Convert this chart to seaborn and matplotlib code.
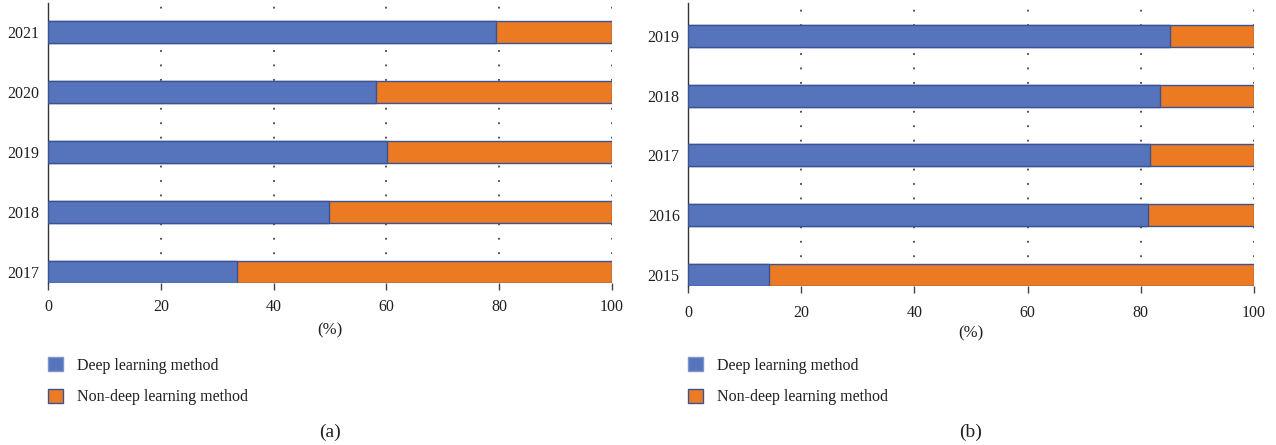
import numpy as np
import pandas as pd
import seaborn as sns
import matplotlib
matplotlib.use("Agg")
from matplotlib import pyplot as plt
from matplotlib.patches import Patch

# panel (a)
years_a = ["2021", "2020", "2019", "2018", "2017"]
deep_a = [79.5, 58.2, 60.1, 49.9, 33.6]
nondeep_a = [20.5, 41.8, 39.9, 50.1, 66.4]

# panel (b)
years_b = ["2019", "2018", "2017", "2016", "2015"]
deep_b = [85.2, 83.3, 81.6, 81.2, 14.3]
nondeep_b = [14.8, 16.7, 18.4, 18.8, 85.7]

labels = ["Deep learning method", "Non-deep learning method"]
blue, orange, edge = "#5574BB", "#EC7A23", "#3B5393"
txt = "#231F20"

sns.set_theme(style="white")
plt.rcParams["font.family"] = ["Liberation Serif", "DejaVu Serif"]
plt.rcParams["font.size"] = 12
plt.rcParams["xtick.labelsize"] = 11.5
plt.rcParams["ytick.labelsize"] = 11.5
plt.rcParams["axes.labelsize"] = 12
plt.rcParams["text.color"] = txt
plt.rcParams["axes.labelcolor"] = txt
plt.rcParams["xtick.color"] = txt
plt.rcParams["ytick.color"] = txt

fig = plt.figure(figsize=(12.76, 4.45), dpi=100)
ax_a = fig.add_axes([0.0376, 0.3640, 0.4420, 0.6292])
ax_b = fig.add_axes([0.5392, 0.3573, 0.4436, 0.6360])


def draw(ax, years, deep, nondeep, tag, top, tickpad, labelpad, legy):
    df = pd.DataFrame({"year": years, "deep": deep, "nondeep": nondeep})
    df["total"] = df["deep"] + df["nondeep"]
    # dotted gridlines behind the bars
    for v in [20, 40, 60, 80, 100]:
        ax.axvline(v, color="#444444", linestyle=(0, (1, 7)), linewidth=1.3, zorder=0)
    sns.barplot(data=df, y="year", x="total", orient="h", color=orange, width=0.37,
                edgecolor=edge, linewidth=1.0, saturation=1, ax=ax, zorder=2)
    sns.barplot(data=df, y="year", x="deep", orient="h", color=blue, width=0.37,
                edgecolor=edge, linewidth=1.0, saturation=1, ax=ax, zorder=3)
    ax.set_xlim(0, 100)
    ax.set_ylim(4.185, top)
    ax.set_xticks([0, 20, 40, 60, 80, 100])
    ax.set_ylabel("")
    ax.set_xlabel("(%)", labelpad=labelpad)
    ax.tick_params(axis="x", bottom=True, length=5, width=1, color="#444444", pad=tickpad)
    ax.tick_params(axis="y", left=False, length=0, pad=6)
    sns.despine(ax=ax, top=True, right=True)
    ax.spines["bottom"].set_visible(False)
    ax.spines["left"].set_color("#333333")
    ax.spines["left"].set_linewidth(1.0)
    handles = [Patch(facecolor=blue, edgecolor="#7F96CC", linewidth=1.0),
               Patch(facecolor=orange, edgecolor=edge, linewidth=1.0)]
    pos = ax.get_position()
    fig.legend(handles, labels, loc="upper left", bbox_to_anchor=(pos.x0, legy),
               bbox_transform=fig.transFigure, frameon=False, borderpad=0,
               borderaxespad=0, handlelength=0.95, handleheight=0.95,
               handletextpad=0.85, labelspacing=0.95, fontsize=11.5)
    fig.text((pos.x0 + pos.x1) / 2, 1 - 432 / 445, tag, ha="center", va="center",
             fontsize=14)


draw(ax_a, years_a, deep_a, nondeep_a, "(a)", -0.483, 6.5, 5, 0.197)
draw(ax_b, years_b, deep_b, nondeep_b, "(b)", -0.551, 9, 3, 0.197)

fig.savefig("out.png", dpi=100)
